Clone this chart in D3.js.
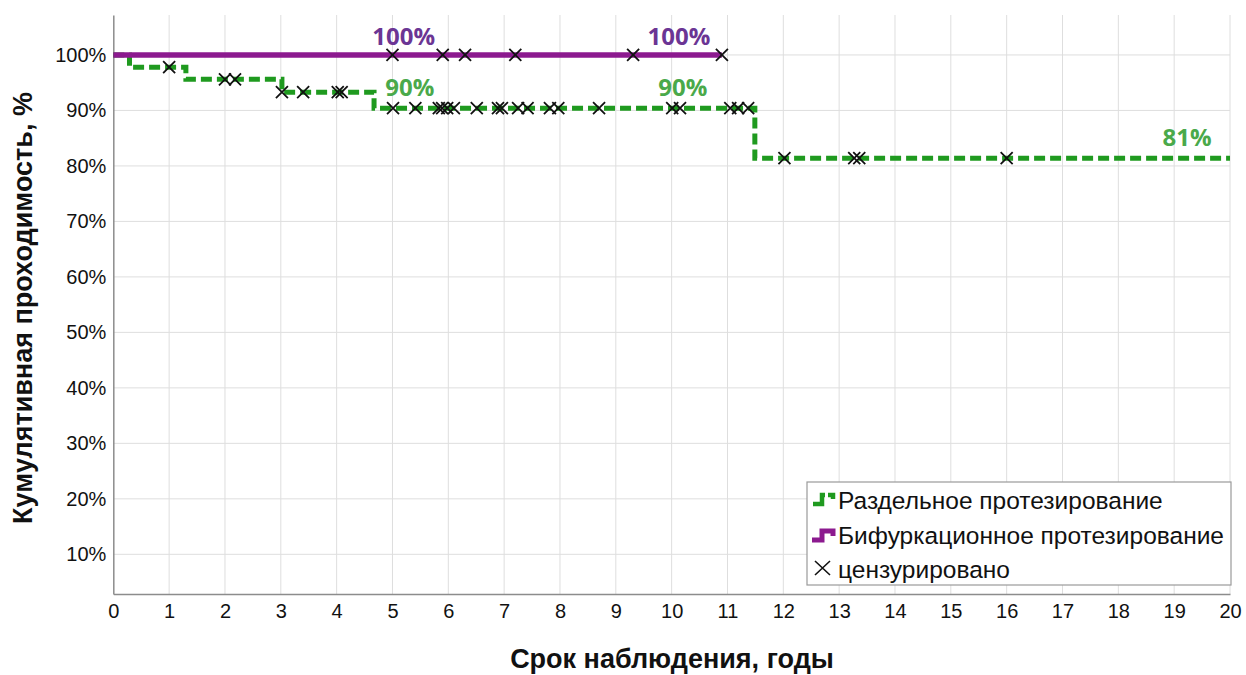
<!DOCTYPE html>
<html>
<head>
<meta charset="utf-8">
<script src="https://cdn.jsdelivr.net/npm/d3@7"></script>
<style>
  html, body { margin: 0; padding: 0; background: #fff; }
  svg { display: block; }
</style>
</head>
<body>
<svg id="chart" width="1246" height="675"></svg>
<script>
// Kaplan–Meier curves: cumulative patency by reconstruction type
const xTicks = d3.range(0, 21);
const yTicks = [10, 20, 30, 40, 50, 60, 70, 80, 90, 100];

// Separate grafting (dashed green): step times and survival (%)
const sepTimes = [0, 0.29, 1.30, 3.02, 4.67, 11.49, 20];
const sepSurv  = [100, 97.8, 95.6, 93.3, 90.4, 81.4, 81.4];
const sepCensored = [1.0, 2.0, 2.18, 3.02, 3.40, 4.02, 4.09, 5.01, 5.41, 5.83, 5.89, 5.98,
  6.10, 6.51, 6.89, 6.96, 7.25, 7.42, 7.82, 7.97, 8.70, 10.01, 10.15, 11.05, 11.19, 11.37,
  12.02, 13.27, 13.36, 16.0];

// Bifurcation grafting (solid purple)
const bifTimes = [0, 10.9];
const bifSurv  = [100, 100];
const bifCensored = [5.0, 5.9, 6.3, 7.2, 9.31, 10.9];

// Value annotations: series, time where the label is centred, value
const annotTimes  = [5.2, 10.13, 5.31, 10.2, 19.23];
const annotValues = [100, 100, 90.4, 90.4, 81.4];
const annotSeries = ["bif", "bif", "sep", "sep", "sep"];

const legendLabels = ["Раздельное протезирование", "Бифуркационное протезирование", "цензурировано"];

const COLORS = {
  sep: "#1f9a1f", bif: "#8c1a8f",
  sepText: "#4aa94a", bifText: "#6b3594",
  grid: "#dedede", axis: "#8c8c8c"
};
const FONT = "Liberation Sans, Arial, sans-serif";

const svg = d3.select("#chart");
const x = d3.scaleLinear().domain([0, 20]).range([113.3, 1230]);
const y = d3.scaleLinear().domain([2.85, 107.2]).range([594, 15]);

// grid
const grid = svg.append("g");
grid.selectAll("line.v").data(xTicks.filter(d => d > 0)).join("line")
  .attr("x1", d => x(d)).attr("x2", d => x(d))
  .attr("y1", y.range()[1]).attr("y2", y.range()[0])
  .attr("stroke", COLORS.grid).attr("stroke-width", 1);
grid.selectAll("line.h").data(yTicks).join("line")
  .attr("x1", x.range()[0]).attr("x2", x.range()[1])
  .attr("y1", d => y(d)).attr("y2", d => y(d))
  .attr("stroke", COLORS.grid).attr("stroke-width", 1);

// axes
const xAxis = svg.append("g").attr("transform", `translate(0,${y.range()[0]})`)
  .call(d3.axisBottom(x).tickValues(xTicks).tickFormat(d3.format("d")).tickSize(0).tickPadding(10));
const yAxis = svg.append("g").attr("transform", `translate(${x.range()[0]},0)`)
  .call(d3.axisLeft(y).tickValues(yTicks).tickFormat(d => d + "%").tickSize(0).tickPadding(7));
[xAxis, yAxis].forEach(a => {
  a.select(".domain").attr("stroke", COLORS.axis).attr("stroke-width", 1.5);
  a.selectAll("text").attr("font-family", FONT)
    .attr("font-size", 20).attr("fill", "#111");
});
xAxis.selectAll("text").attr("dy", "0.71em");

// axis titles
svg.append("text")
  .attr("x", 672).attr("y", 668)
  .attr("text-anchor", "middle")
  .attr("font-family", FONT).attr("font-weight", "bold")
  .attr("font-size", 27).attr("fill", "#111")
  .text("Срок наблюдения, годы");
svg.append("text")
  .attr("transform", `translate(32,308) rotate(-90)`)
  .attr("text-anchor", "middle")
  .attr("font-family", FONT).attr("font-weight", "bold")
  .attr("font-size", 27).attr("fill", "#111")
  .text("Кумулятивная проходимость, %");

// step lines
const step = d3.line().x(d => x(d[0])).y(d => y(d[1])).curve(d3.curveStepAfter);
const sepPts = d3.zip(sepTimes, sepSurv);
const bifPts = d3.zip(bifTimes, bifSurv);

svg.append("path").attr("d", step(sepPts))
  .attr("fill", "none").attr("stroke", COLORS.sep).attr("stroke-width", 5)
  .attr("stroke-dasharray", "11,5");
svg.append("path").attr("d", step(bifPts))
  .attr("fill", "none").attr("stroke", COLORS.bif).attr("stroke-width", 5.5);

// survival value at time t on a step curve
function survAt(times, surv, t) {
  let v = surv[0];
  for (let i = 0; i < times.length; i++) if (times[i] <= t) v = surv[i];
  return v;
}

// censor marks
const cross = 6;
function drawCensors(times, surv, list) {
  svg.append("g").selectAll("path").data(list).join("path")
    .attr("d", t => {
      const cx = x(t), cy = y(survAt(times, surv, t));
      return `M${cx - cross},${cy - cross}L${cx + cross},${cy + cross}M${cx - cross},${cy + cross}L${cx + cross},${cy - cross}`;
    })
    .attr("stroke", "#111").attr("stroke-width", 1.8).attr("fill", "none");
}
drawCensors(sepTimes, sepSurv, sepCensored);
drawCensors(bifTimes, bifSurv, bifCensored);

// value annotations
svg.append("g").selectAll("text").data(d3.range(annotTimes.length)).join("text")
  .attr("x", i => x(annotTimes[i]))
  .attr("y", i => y(annotValues[i]) - (annotSeries[i] === "bif" ? 10 : 12))
  .attr("text-anchor", "middle")
  .attr("font-family", "Open Sans, sans-serif").attr("font-weight", "bold")
  .attr("font-size", 24)
  .attr("fill", i => annotSeries[i] === "bif" ? COLORS.bifText : COLORS.sepText)
  .text(i => Math.round(annotValues[i]) + "%");

// legend
const lg = svg.append("g").attr("transform", "translate(807,482)");
lg.append("rect").attr("width", 424).attr("height", 103)
  .attr("fill", "#fff").attr("stroke", "#9a9a9a").attr("stroke-width", 1.2);
const rowY = [18, 53, 87];
lg.selectAll("text").data(legendLabels).join("text")
  .attr("x", 31).attr("y", (d, i) => rowY[i] + 8.5)
  .attr("font-family", FONT)
  .attr("font-size", 24.5).attr("fill", "#111")
  .text(d => d);
// green dashed step icon
lg.append("path").attr("d", `M6,${rowY[0] + 4}H15V${rowY[0] - 5}H18`)
  .attr("fill", "none").attr("stroke", COLORS.sep).attr("stroke-width", 4.5);
lg.append("path").attr("d", `M21,${rowY[0] - 5}H26V${rowY[0] - 1}`)
  .attr("fill", "none").attr("stroke", COLORS.sep).attr("stroke-width", 4.5);
// purple step icon
lg.append("path").attr("d", `M5,${rowY[1] + 5}H15V${rowY[1] - 4}H26V${rowY[1] + 1}`)
  .attr("fill", "none").attr("stroke", COLORS.bif).attr("stroke-width", 5);
// censor icon
lg.append("path").attr("d", `M8,${rowY[2] - 8}L23,${rowY[2] + 6}M8,${rowY[2] + 6}L23,${rowY[2] - 8}`)
  .attr("stroke", "#111").attr("stroke-width", 1.6);
</script>
</body>
</html>
